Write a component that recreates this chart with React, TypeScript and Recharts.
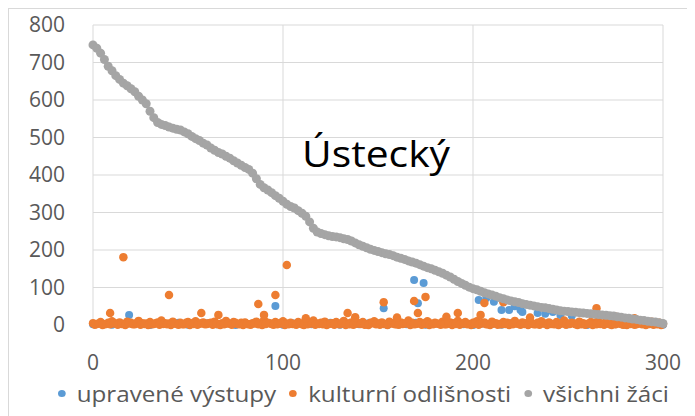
import { ScatterChart, Scatter, XAxis, YAxis, CartesianGrid, Legend } from "recharts"

const xTicks = [0, 100, 200, 300]
const yTicks = [0, 100, 200, 300, 400, 500, 600, 700, 800]

const seriesNames = ["upravené výstupy", "kulturní odlišnosti", "všichni žáci"]
const colors = ["#5B9BD5", "#ED7D31", "#A5A5A5"]

// všichni žáci – schools sorted, every 2nd school (x = 0, 2, 4 ... 300)
const vsichniZaci = [
  747, 738, 725, 708, 690, 678, 665, 655, 645, 638,
  630, 622, 610, 600, 590, 570, 553, 540, 535, 532,
  528, 525, 522, 520, 515, 510, 503, 497, 492, 485,
  480, 472, 466, 460, 456, 450, 445, 438, 432, 426,
  420, 415, 405, 390, 375, 366, 360, 353, 345, 338,
  330, 322, 316, 312, 305, 298, 290, 275, 258, 248,
  244, 241, 238, 236, 235, 233, 230, 228, 224, 219,
  214, 210, 206, 202, 199, 196, 193, 190, 188, 185,
  181, 178, 175, 171, 168, 165, 161, 157, 153, 150,
  146, 142, 138, 133, 128, 122, 116, 111, 106, 101,
  97, 94, 90, 86, 83, 80, 77, 73, 70, 67,
  64, 62, 60, 57, 55, 53, 51, 49, 47, 46,
  44, 42, 40, 38, 37, 36, 35, 34, 33, 32,
  31, 30, 29, 28, 27, 26, 25, 24, 22, 21,
  19, 18, 16, 15, 13, 12, 10, 9, 8, 6,
  4,
]

// kulturní odlišnosti – low values along the bottom, even schools (x = 0, 2 ... 300)
const kulturniEven = [
  5, 3, 8, 2, 6, 10, 4, 7, 3, 9,
  6, 2, 11, 5, 4, 8, 3, 7, 12, 5,
  4, 9, 3, 6, 2, 8, 5, 10, 4, 7,
  3, 6, 9, 2, 5, 11, 4, 8, 3, 6,
  7, 2, 5, 9, 4, 13, 6, 3, 8, 5,
  10, 4, 6, 3, 8, 2, 7, 5, 12, 4,
  6, 9, 3, 5, 8, 2, 11, 4, 7, 3,
  5, 8, 2, 6, 10, 4, 7, 3, 9, 5,
  2, 7, 4, 12, 6, 3, 8, 5, 10, 4,
  6, 3, 9, 2, 7, 5, 11, 4, 8, 3,
  6, 10, 4, 7, 2, 9, 5, 3, 8, 6,
  4, 11, 3, 7, 5, 9, 2, 6, 10, 4,
  7, 3, 8, 5, 12, 4, 6, 2, 9, 5,
  3, 8, 6, 10, 4, 7, 2, 5, 9, 3,
  6, 4, 8, 2, 7, 5, 3, 9, 4, 6,
  3,
]
// odd schools (x = 1, 3 ... 299)
const kulturniOdd = [
  1, 4, 0, 3, 2, 5, 1, 3, 0, 4,
  2, 6, 1, 3, 0, 2, 5, 1, 3, 2,
  0, 4, 1, 2, 6, 0, 3, 1, 4, 2,
  5, 1, 3, 0, 2, 4, 1, 6, 2, 0,
  3, 1, 4, 2, 0, 3, 5, 1, 2, 4,
  0, 2, 3, 1, 5, 0, 2, 4, 1, 3,
  2, 0, 4, 1, 3, 6, 0, 2, 1, 4,
  3, 1, 0, 5, 2, 1, 3, 0, 4, 2,
  1, 3, 5, 0, 2, 4, 1, 3, 0, 2,
  4, 1, 2, 6, 0, 3, 1, 4, 2, 0,
  3, 1, 5, 2, 0, 4, 1, 2, 3, 0,
  2, 4, 1, 3, 0, 5, 2, 1, 4, 0,
  3, 2, 0, 4, 1, 3, 5, 0, 2, 1,
  4, 0, 2, 3, 1, 5, 0, 2, 4, 1,
  0, 3, 1, 4, 2, 0, 3, 1, 2, 0,
]
// kulturní odlišnosti – schools standing out from the band
const kulturniHigh: [number, number][] = [
  [9, 32], [16, 181], [40, 80], [57, 32], [66, 27], [87, 56], [90, 27], [96, 80],
  [102, 160], [112, 18], [134, 32], [138, 21], [153, 61], [160, 20], [169, 64],
  [171, 32], [175, 75], [186, 22], [192, 32], [204, 27], [206, 59], [216, 61],
  [230, 20], [265, 45], [275, 22], [285, 18],
]

// upravené výstupy – low values (x = 0, 5, 10 ... 300)
const upraveneBase = [
  2, 4, 1, 3, 5, 2, 0, 4, 3, 6,
  1, 3, 5, 2, 4, 0, 3, 6, 2, 4,
  1, 5, 3, 2, 4, 6, 1, 3, 2, 5,
  4, 0, 3, 2, 6, 1, 4, 3, 5, 2,
  0, 4, 3, 1, 5, 2, 4, 6, 3, 1,
  2, 4, 0, 3, 5, 2, 1, 4, 3, 2,
  1,
]
const upraveneHigh: [number, number][] = [
  [19, 27], [96, 51], [153, 45], [169, 120], [171, 58], [174, 112], [203, 67],
  [207, 72], [211, 62], [215, 40], [219, 40], [222, 50], [225, 40], [226, 35],
  [234, 32], [238, 30], [242, 35], [246, 27], [252, 25],
]

const upravene = [
  ...upraveneBase.map((y, i) => ({ x: i * 5, y })),
  ...upraveneHigh.map(([x, y]) => ({ x, y })),
]
const kulturni = [
  ...kulturniEven.map((y, i) => ({ x: i * 2, y })),
  ...kulturniOdd.map((y, i) => ({ x: i * 2 + 1, y })),
  ...kulturniHigh.map(([x, y]) => ({ x, y })),
]
const vsichni = vsichniZaci.map((y, i) => ({ x: i * 2, y }))

const font = "'Open Sans', sans-serif"
const tickStyle = { fontSize: 21, fill: "#595959", fontFamily: font }

const dot = (color: string, r: number) => (props: any) => (
  <circle cx={props.cx} cy={props.cy} r={r} fill={color} />
)

const renderLegend = () => (
  <div style={{ display: "flex", alignItems: "center", height: 24, fontFamily: font, fontSize: 22, color: "#595959", whiteSpace: "nowrap", transform: "scaleX(1.1)", transformOrigin: "left center" }}>
    {seriesNames.map((name, i) => (
      <div key={name} style={{ display: "flex", alignItems: "center", marginRight: 12 }}>
        <span style={{ display: "inline-block", width: 7, height: 7, borderRadius: "50%", background: colors[i], marginRight: 10 }} />
        <span>{name}</span>
      </div>
    ))}
  </div>
)

export default function App() {
  return (
    <div style={{ width: 686, height: 408, boxSizing: "border-box", borderTop: "1px solid #d9d9d9", borderLeft: "1px solid #d9d9d9", borderRight: "1px solid #d9d9d9", background: "#fff", fontFamily: font }}>
      <ScatterChart width={684} height={407} margin={{ top: 16, right: 30, left: 24, bottom: 27 }}>
        <CartesianGrid stroke="#d9d9d9" />
        <XAxis type="number" dataKey="x" domain={[0, 300]} ticks={xTicks} axisLine={false} tickLine={false} tickMargin={24} height={40} tick={tickStyle} />
        <YAxis type="number" dataKey="y" domain={[0, 800]} ticks={yTicks} axisLine={false} tickLine={false} tickMargin={22} width={60} tick={tickStyle} />
        <Legend content={renderLegend} wrapperStyle={{ position: "absolute", top: 372, left: 49, bottom: "auto", width: "auto" }} />
        <Scatter name={seriesNames[0]} data={upravene} fill={colors[0]} shape={dot(colors[0], 4)} isAnimationActive={false} />
        <Scatter name={seriesNames[1]} data={kulturni} fill={colors[1]} shape={dot(colors[1], 4.25)} isAnimationActive={false} />
        <Scatter name={seriesNames[2]} data={vsichni} fill={colors[2]} shape={dot(colors[2], 4.5)} isAnimationActive={false} />
        <text x={293} y={158} fontSize={36} fontFamily={font} fill="#000" textLength={148} lengthAdjust="spacingAndGlyphs">Ústecký</text>
      </ScatterChart>
    </div>
  )
}
